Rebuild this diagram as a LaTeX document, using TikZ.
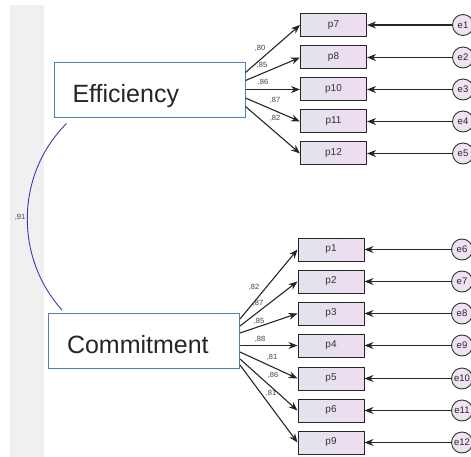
\documentclass[tikz,border=0pt]{standalone}
\usepackage{fontspec}
\setmainfont{Liberation Sans}
\usetikzlibrary{arrows.meta}
\definecolor{latblue}{HTML}{4F7FB8}
\definecolor{curveblue}{HTML}{3A3AB0}
\definecolor{boxL}{HTML}{E2E4EE}
\definecolor{boxR}{HTML}{F0DCF0}
\definecolor{errF}{HTML}{EFE2F2}
\begin{document}
\begin{tikzpicture}[x=1pt,y=-1pt,
 latent/.style={draw=latblue, line width=1pt, fill=white, minimum height=55pt, inner xsep=18.5pt, inner ysep=0pt, text width=154pt, align=left, text height=24pt, text depth=0pt, font=\fontsize{25}{25}\selectfont, text=black!85},
 ind/.style={draw=black!85, line width=1pt, left color=boxL, right color=boxR, minimum width=66pt, minimum height=23pt, inner sep=0pt, font=\fontsize{10}{10}\selectfont, text=black!80},
 err/.style={circle, draw=black!80, line width=0.9pt, fill=errF, minimum size=21pt, inner sep=0pt, font=\fontsize{9.5}{10}\selectfont, text=black!85},
 pth/.style={-{Stealth[length=9pt,width=7pt]}, line width=1.1pt, draw=black!85},
 lab/.style={font=\fontsize{7.5}{7.5}\selectfont, text=black!75, inner sep=0pt}
]
\useasboundingbox (0,0) rectangle (471,457);
\fill[gray!12] (10,5) rectangle (44,457);

% latent variables
\node[latent] (eff) at (149.5,90.5) {Efficiency};
\node[latent] (com) at (144,341) {Commitment};

% indicators (top)
\node[ind] (p7) at (333.5,25) {p7};
\node[ind] (p8) at (333.5,57.5) {p8};
\node[ind] (p10) at (333.5,89.5) {p10};
\node[ind] (p11) at (333.5,121.5) {p11};
\node[ind] (p12) at (333.5,153.5) {p12};
% indicators (bottom)
\node[ind] (p1) at (331,249.5) {p1};
\node[ind] (p2) at (331,281.5) {p2};
\node[ind] (p3) at (331,313.5) {p3};
\node[ind] (p4) at (331,345.5) {p4};
\node[ind] (p5) at (331,378.5) {p5};
\node[ind] (p6) at (331,410.5) {p6};
\node[ind] (p9) at (331,442.5) {p9};

% errors
\node[err] (e1) at (463,25) {e1};
\node[err] (e2) at (463,57.5) {e2};
\node[err] (e3) at (463,89.5) {e3};
\node[err] (e4) at (463,121.5) {e4};
\node[err] (e5) at (463,153.5) {e5};
\node[err] (e6) at (462,249.5) {e6};
\node[err] (e7) at (462,281.5) {e7};
\node[err] (e8) at (462,313.5) {e8};
\node[err] (e9) at (462,345.5) {e9};
\node[err] (e10) at (462,378.5) {e10};
\node[err] (e11) at (462,410.5) {e11};
\node[err] (e12) at (462,442.5) {e12};

% error paths
\foreach \e/\p in {e1/p7,e2/p8,e3/p10,e4/p11,e5/p12,e6/p1,e7/p2,e8/p3,e9/p4,e10/p5,e11/p6,e12/p9}
  \draw[pth] (\e) -- (\p);

% loadings Efficiency
\draw[pth] ([yshift=18pt]eff.east) -- (p7.west);
\draw[pth] ([yshift=10pt]eff.east) -- (p8.west);
\draw[pth] ([yshift=1pt]eff.east) -- (p10.west);
\draw[pth] ([yshift=-7.5pt]eff.east) -- (p11.west);
\draw[pth] ([yshift=-16pt]eff.east) -- (p12.west);
% loadings Commitment
\draw[pth] ([yshift=22pt]com.east) -- (p1.west);
\draw[pth] ([yshift=15pt]com.east) -- (p2.west);
\draw[pth] ([yshift=8pt]com.east) -- (p3.west);
\draw[pth] ([yshift=-4.5pt]com.east) -- (p4.west);
\draw[pth] ([yshift=-11pt]com.east) -- (p5.west);
\draw[pth] ([yshift=-18pt]com.east) -- (p6.west);
\draw[pth] ([yshift=-24pt]com.east) -- (p9.west);

% loading labels
\node[lab] (l80) at (260,48) {,80};
\node[lab] (l85a) at (262,65) {,85};
\node[lab] (l86a) at (263,82) {,86};
\node[lab] (l87a) at (275,100) {,87};
\node[lab] (l82a) at (275,118) {,82};

\node[lab] (l82b) at (254,287) {,82};
\node[lab] (l87b) at (258,303) {,87};
\node[lab] (l85b) at (259,321) {,85};
\node[lab] (l88) at (260,339) {,88};
\node[lab] (l81a) at (272,357) {,81};
\node[lab] (l86b) at (273,375) {,86};
\node[lab] (l81b) at (271,393) {,81};

% correlation
\draw[curveblue, line width=0.9pt] ([xshift=13pt,yshift=-5pt]eff.south west) .. controls (15,175) and (15,258) .. ([xshift=14pt,yshift=3pt]com.north west);
\node[lab] (r91) at (20,217) {,91};
\end{tikzpicture}
\end{document}
